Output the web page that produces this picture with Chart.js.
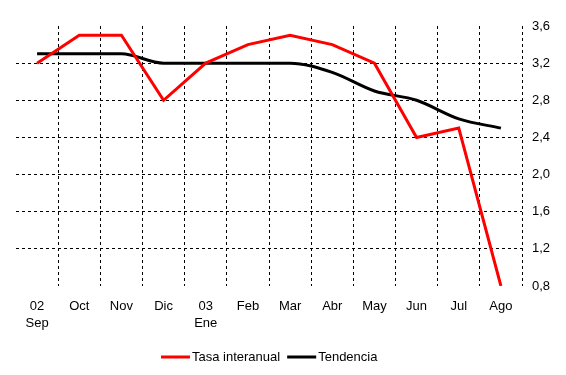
<!DOCTYPE html>
<html><head><meta charset="utf-8">
<script src="https://cdn.jsdelivr.net/npm/chart.js@4/dist/chart.umd.min.js"></script>
<style>html,body{margin:0;padding:0;background:#fff}#wrap{width:566px;height:375px}</style>
</head><body><div id="wrap"><canvas id="c" width="566" height="375"></canvas></div>
<script>
const categories = [["02","Sep"],"Oct","Nov","Dic",["03","Ene"],"Feb","Mar","Abr","May","Jun","Jul","Ago"];
const tasaInteranual = [3.2,3.5,3.5,2.8,3.2,3.4,3.5,3.4,3.2,2.4,2.5,0.8];
const tendencia = [3.3,3.3,3.3,3.2,3.2,3.2,3.2,3.1,2.9,2.8,2.6,2.5];
const yTicks = [0.8,1.2,1.6,2.0,2.4,2.8,3.2,3.6];

const FONT = 'Liberation Sans';

const customLegend = {
  id:'customLegend',
  afterDraw(chart){
    const ctx = chart.ctx;
    const ca = chart.chartArea;
    ctx.save();
    ctx.font = '13px "' + FONT + '"';
    ctx.textBaseline = 'middle';
    const lineW = 29, gap = 2, itemGap = 7;
    const items = chart.data.datasets.map(ds => ({ds, w: lineW + gap + ctx.measureText(ds.label).width}));
    const total = items.reduce((s,i)=>s+i.w,0) + itemGap*(items.length-1);
    let x = Math.round((ca.left + ca.right)/2 - total/2);
    const y = 357;
    items.forEach(it => {
      ctx.fillStyle = it.ds.borderColor;
      ctx.fillRect(x, y-1.5, lineW, 3);
      ctx.fillStyle = '#000';
      ctx.fillText(it.ds.label, x + lineW + gap, y);
      x += it.w + itemGap;
    });
    ctx.restore();
  }
};

new Chart(document.getElementById('c'), {
  type: 'line',
  data: {
    labels: categories,
    datasets: [
      {label:'Tasa interanual', data: tasaInteranual, borderColor:'#ff0000', backgroundColor:'#ff0000', borderWidth:3, pointRadius:0, tension:0},
      {label:'Tendencia', data: tendencia, borderColor:'#000000', backgroundColor:'#000000', borderWidth:3, pointRadius:0, cubicInterpolationMode:'monotone'}
    ]
  },
  plugins:[customLegend],
  options: {
    responsive:false, animation:false, devicePixelRatio:1,
    layout:{padding:{left:16, top:26, right:0, bottom:0}},
    plugins:{
      legend:{display:false},
      tooltip:{enabled:false}
    },
    scales:{
      x:{
        offset:true,
        grid:{offset:true, drawTicks:false, color:(ctx)=> (ctx.index===0||ctx.index===categories.length)?'rgba(0,0,0,0)':'#000', lineWidth:1},
        border:{display:false, dash:[3,3]},
        afterFit:(ax)=>{ax.height = 89;},
        ticks:{color:'#000', font:{family:FONT, size:13, lineHeight:17/13}, maxRotation:0, autoSkip:false, padding:12}
      },
      y:{
        position:'right', min:0.8, max:3.6,
        afterBuildTicks:(ax)=>{ax.ticks = yTicks.map(v=>({value:v}));},
        afterFit:(ax)=>{ax.width = 44;},
        grid:{drawTicks:false, color:(ctx)=> (ctx.tick && (ctx.tick.value===0.8||ctx.tick.value===3.6))?'rgba(0,0,0,0)':'#000', lineWidth:1},
        border:{display:false, dash:[3,3]},
        ticks:{color:'#000', font:{family:FONT, size:13}, padding:10, callback:(v)=>Number(v).toFixed(1).replace('.',',')}
      }
    }
  }
});
</script></body></html>
